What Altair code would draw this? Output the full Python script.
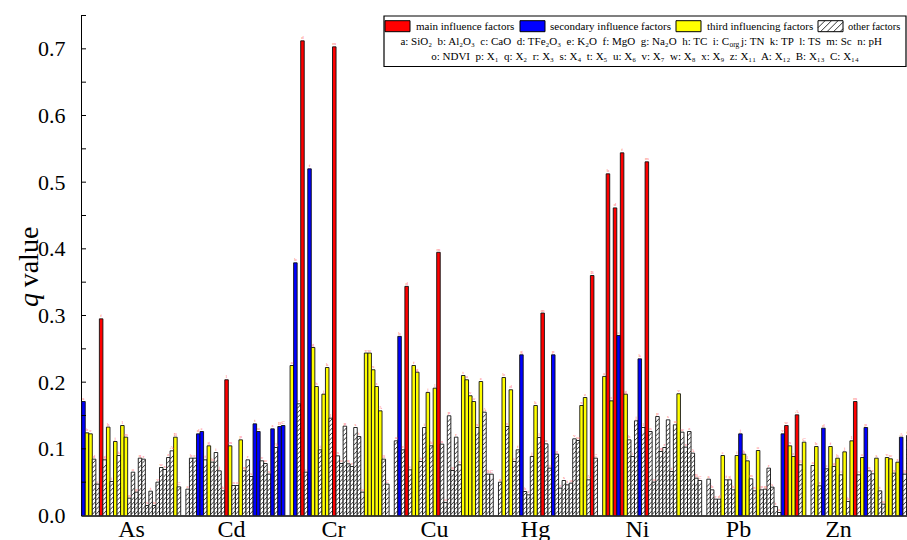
import altair as alt
import pandas as pd

# ---------------- data ----------------
metals = ["As", "Cd", "Cr", "Cu", "Hg", "Ni", "Pb", "Zn"]
factors = ["a", "b", "c", "d", "e", "f", "g", "h", "i", "j", "k", "l", "m", "n",
           "o", "p", "q", "r", "s", "t", "u", "v", "w", "x", "z", "A", "B", "C"]

q_As = [0.171, 0.124, 0.1225, 0.0845, 0.047, 0.295, 0.0835, 0.1326, 0.051, 0.111, 0.09, 0.135, 0.1175, 0.026,
        0.065, 0.035, 0.086, 0.0845, 0.015, 0.0365, 0.015, 0.05, 0.072, 0.069, 0.087, 0.097, 0.1175, 0.043]
q_Cd = [0.0395, 0.086, 0.086, 0.1225, 0.126, 0.0835, 0.1045, 0.08, 0.0945, 0.067, 0.037, 0.2036, 0.1045, 0.045,
        0.045, 0.1135, 0.067, 0.0835, 0.0585, 0.1375, 0.126, 0.082, 0.078, 0.062, 0.13, 0.102, 0.1335, 0.135]
q_Cr = [0.225, 0.379, 0.1675, 0.712, 0.065, 0.52, 0.252, 0.1935, 0.0985, 0.182, 0.222, 0.146, 0.703, 0.0895,
        0.078, 0.134, 0.0775, 0.0735, 0.132, 0.1185, 0.035, 0.2437, 0.2437, 0.2186, 0.1935, 0.157, 0.0845, 0.047]
q_Cu = [0.112, 0.2687, 0.0985, 0.3437, 0.0685, 0.225, 0.215, 0.081, 0.132, 0.1846, 0.1045, 0.191, 0.3948, 0.107,
        0.0194, 0.1496, 0.0675, 0.1175, 0.076, 0.21, 0.2036, 0.1796, 0.171, 0.132, 0.201, 0.155, 0.062, 0.062]
q_Hg = [0.05, 0.207, 0.1335, 0.1886, 0.081, 0.0985, 0.241, 0.036, 0.031, 0.0885, 0.165, 0.117, 0.3037, 0.1075,
        0.071, 0.241, 0.092, 0.041, 0.0525, 0.046, 0.0485, 0.115, 0.1125, 0.165, 0.177, 0.0535, 0.36, 0.086]
q_Ni = [0.2086, 0.5125, 0.172, 0.4614, 0.27, 0.544, 0.182, 0.1135, 0.0885, 0.142, 0.235, 0.132, 0.5305, 0.126,
        0.05, 0.1485, 0.096, 0.102, 0.1435, 0.066, 0.136, 0.1826, 0.125, 0.1025, 0.126, 0.0935, 0.056, 0.0525]
q_Pb = [0.0545, 0.0385, 0.0245, 0.0245, 0.09, 0.0535, 0.0535, 0.0385, 0.09, 0.1225, 0.092, 0.082, 0.055, 0.037,
        0.0975, 0.0385, 0.0395, 0.071, 0.0425, 0.0134, 0.0045, 0.1225, 0.135, 0.1045, 0.0885, 0.151, 0.076, 0.11]
q_Zn = [0.075, 0.1035, 0.0445, 0.131, 0.07, 0.1035, 0.0735, 0.086, 0.061, 0.0955, 0.021, 0.112, 0.171, 0.061,
        0.087, 0.132, 0.067, 0.0625, 0.086, 0.037, 0.017, 0.087, 0.085, 0.0635, 0.08, 0.1175, 0.062, 0.12]

# R = main, B = secondary, Y = third, O = other
cls_As = list("BYYOOROYOYOYYOOOOOOOOOOOOOYO")
cls_Cd = list("OOOBBOYOOOORYOOYOOOBBOOOBOBB")
cls_Cr = list("YBOROBYYOYYOROOOOOOOOYYYYYOO")
cls_Cu = list("OBOROYYOOYOYROOOOOOYYYYOYOOO")
cls_Hg = list("OYOYOOBOOOYOROOBOOOOOOOYYORO")
cls_Ni = list("YRYRBRYOOOBOROOOOOOOOYOOOOOO")
cls_Pb = list("OOOOYOOOYBYYOOYOOOOOOBRYYROY")
cls_Zn = list("OYOBOYOYOYOYROYBOOYOOYYOYBOO")

values = [q_As, q_Cd, q_Cr, q_Cu, q_Hg, q_Ni, q_Pb, q_Zn]
classes = [cls_As, cls_Cd, cls_Cr, cls_Cu, cls_Hg, cls_Ni, cls_Pb, cls_Zn]
label_px = [131, 231, 333, 434, 535, 637, 738, 838]   # x-axis label centres (page px)

class_names = {"R": "main influence factors", "B": "secondary influence factors",
               "Y": "third influencing factors", "O": "other factors"}

# ---------------- geometry ----------------
OX, OY = 81.0, 15.5          # plot origin in page pixels
W, H = 826, 500
BAR_PX = 3.536               # width of one bar slot
PITCH = 104.19 / BAR_PX      # group pitch in slot units
D0 = -0.7 / BAR_PX
D1 = D0 + W / BAR_PX

rows = []
for g, m in enumerate(metals):
    for i, f in enumerate(factors):
        x0 = g * PITCH + i
        rows.append({"metal": m, "factor": f, "x0": x0, "x1": x0 + 1, "xc": x0 + 0.5,
                     "q": values[g][i], "cls": class_names[classes[g][i]], "zero": 0.0})
df = pd.DataFrame(rows)

# hatch segments for "other factors" bars
STEP = 4.6 / 666.0
RISE = 3.3 / 666.0
hrows = []
for r in rows:
    if r["cls"] == "other factors":
        k = 0
        while True:
            y0 = 0.002 + k * STEP
            if y0 + RISE > r["q"] - 0.0008:
                break
            hrows.append({"hx0": r["x0"] + 0.08, "hx1": r["x1"] - 0.08, "hy0": y0, "hy1": y0 + RISE})
            k += 1
dh = pd.DataFrame(hrows)

xscale = alt.Scale(domain=[D0, D1], nice=False, zero=False)
yscale = alt.Scale(domain=[0, 0.75], nice=False, zero=True)

label_vals = [round(D0 + (p - OX) / BAR_PX, 3) for p in label_px]
lab_expr = "{" + ",".join(f"'{v}':'{m}'" for v, m in zip(label_vals, metals)) + "}"

FONT = "Liberation Serif"

XAXIS = alt.Axis(values=label_vals, title=None, grid=False,
                 labelExpr=f"{lab_expr}[''+datum.value]",
                 labelFont=FONT, labelFontSize=24, labelColor="black",
                 labelPadding=2, tickSize=0, domainColor="black", domainWidth=1.6,
                 labelFlush=False, labelOverlap=False)
YAXIS = alt.Axis(values=[0, 0.1, 0.2, 0.3, 0.4, 0.5, 0.6, 0.7], format=".1f", title=None,
                 grid=False, labelFont=FONT, labelFontSize=22, labelColor="black",
                 tickSize=0, labelPadding=16, domainColor="black", domainWidth=1)

bars = alt.Chart(df).mark_rect(stroke="#111111", strokeWidth=0.9, clip=True).encode(
    x=alt.X("x0:Q", scale=xscale, axis=XAXIS),
    x2="x1:Q",
    y=alt.Y("q:Q", scale=yscale, axis=YAXIS),
    y2="zero:Q",
    color=alt.Color("cls:N", legend=None,
                    scale=alt.Scale(domain=list(class_names.values()),
                                    range=["#ff0000", "#0000ff", "#ffff00", "#ffffff"])),
)

hatch = alt.Chart(dh).mark_rule(color="#000000", strokeWidth=0.75, clip=True).encode(
    x=alt.X("hx0:Q", scale=xscale, axis=XAXIS), x2="hx1:Q",
    y=alt.Y("hy0:Q", scale=yscale, axis=YAXIS), y2="hy1:Q",
)

letters = alt.Chart(df).mark_text(fontSize=5, color="#ff6f6f", baseline="bottom", dy=-0.5,
                                  font=FONT, clip=True).encode(
    x=alt.X("xc:Q", scale=xscale, axis=XAXIS),
    y=alt.Y("q:Q", scale=yscale, axis=YAXIS),
    text="factor:N",
)

tick_vals = [round(0.05 * k, 2) for k in range(1, 16)]
ticks = alt.Chart(pd.DataFrame({"t": tick_vals})).mark_rule(color="black", strokeWidth=1).encode(
    x=alt.value(0), x2=alt.value(5),
    y=alt.Y("t:Q", scale=yscale, axis=YAXIS),
)

one = alt.Data(values=[{}])


def box(x1, x2, y1, y2, fill, sw=1.0):
    return alt.Chart(one).mark_rect(fill=fill, stroke="black", strokeWidth=sw).encode(
        x=alt.value(x1 - OX), x2=alt.value(x2 - OX), y=alt.value(y1 - OY), y2=alt.value(y2 - OY))


def seg(x1, y1, x2, y2, sw=0.9):
    return alt.Chart(one).mark_rule(color="black", strokeWidth=sw).encode(
        x=alt.value(x1 - OX), x2=alt.value(x2 - OX), y=alt.value(y1 - OY), y2=alt.value(y2 - OY))


def txt(s, x, y, size=11.0, align="left", style="normal", baseline="middle", angle=0):
    return alt.Chart(one).mark_text(text=s, align=align, baseline=baseline, font=FONT,
                                    fontSize=size, fontStyle=style, color="black", angle=angle).encode(
        x=alt.value(x - OX), y=alt.value(y - OY))


legend_layers = [
    box(384, 906, 16, 66.5, "white", 1.2),
    box(385, 410, 20.7, 31.7, "#ff0000"),
    txt("main influence factors", 416, 26.5),
    box(520, 545, 20.7, 31.7, "#0000ff"),
    txt("secondary influence factors", 550, 26.5),
    box(676, 701, 20.7, 31.7, "#ffff00"),
    txt("third influencing factors", 707, 26.5),
    box(818, 843, 20.7, 31.7, "white"),
    txt("other factors", 848, 26.5, size=10.4),
]
for k in range(5):
    xa = 818 + k * 6.5 - 4
    legend_layers.append(seg(max(xa, 818), 31.7 - (max(xa, 818) - xa), min(xa + 11, 843),
                             31.7 - (min(xa + 11, 843) - xa), 0.8))

S = "\u00a0 "   # two spaces (SVG collapses plain runs of spaces)
row2a = S.join(["a: SiO₂", "b: Al₂O₃", "c: CaO", "d: TFe₂O₃", "e: K₂O", "f: MgO", "g: Na₂O", "h: TC", "i: C"])
row2b = S.join(["j: TN", "k: TP", "l: TS", "m: Sc", "n: pH"])
row3 = S.join(["o: NDVI", "p: X₁", "q: X₂", "r: X₃", "s: X₄", "t: X₅", "u: X₆", "v: X₇", "w: X₈",
               "x: X₉", "z: X₁₁", "A: X₁₂", "B: X₁₃", "C: X₁₄"])

legend_layers += [
    txt(row2a, 729, 41.5, align="right"),
    txt("org", 729.5, 44.5, size=7.5),
    txt(row2b, 741, 41.5),
    txt(row3, 645, 56.5, align="center"),
]

ytitle = [
    txt("value", 30, 257, size=28, align="center", angle=270),
    txt("q", 30, 300, size=28, align="center", style="italic", angle=270),
]

chart = alt.layer(bars, hatch, letters, ticks, *legend_layers, *ytitle).properties(
    width=W, height=H,
    autosize=alt.AutoSizeParams(type="none"),
    padding={"left": OX, "top": OY, "right": 907 - OX - W, "bottom": 540 - OY - H},
).configure_view(stroke=None)

chart.save("out.html", embed_options={"renderer": "svg", "actions": False})
